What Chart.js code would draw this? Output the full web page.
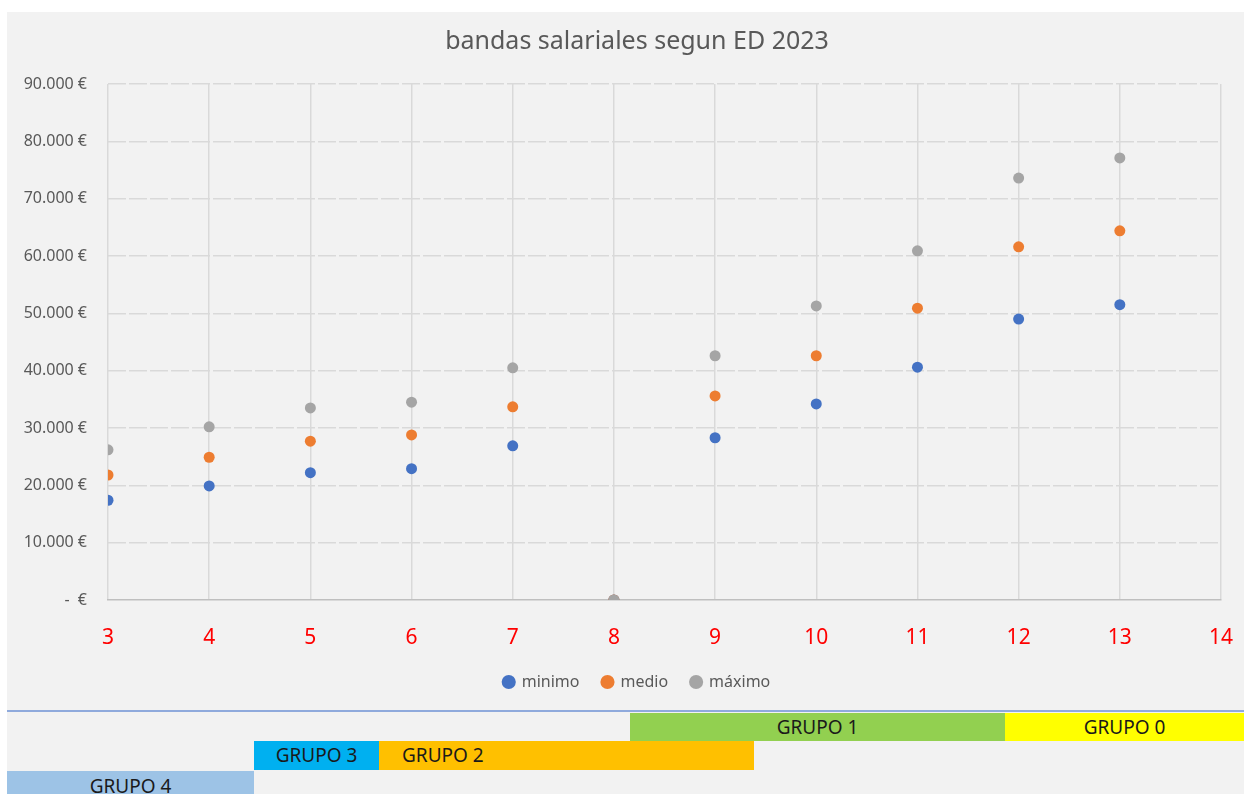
<!DOCTYPE html>
<html>
<head>
<meta charset="utf-8">
<script src="https://cdn.jsdelivr.net/npm/chart.js@4.4.0/dist/chart.umd.min.js"></script>
<style>
  body { margin: 0; background: #fff; width: 1244px; height: 794px; overflow: hidden; position: relative; }
  #sheet { position: absolute; left: 7px; top: 12px; width: 1237px; height: 782px; background: #f2f2f2; }
  #wrap { position: absolute; left: 7px; top: 12px; width: 1260px; height: 696px; }
  #line { position: absolute; left: 7px; top: 710px; width: 1237px; height: 2px; background: #8faadc; }
  .cell { position: absolute; height: 28px; line-height: 28px; font-family: "Noto Sans", "Open Sans", sans-serif; font-size: 19px; color: #1a1a1a; text-align: center; }
</style>
</head>
<body>
<div id="sheet"></div>
<div id="wrap"><canvas id="myChart"></canvas></div>
<div id="line"></div>
<div class="cell" style="left:630px; top:713px; width:375px; background:#92d050;">GRUPO 1</div>
<div class="cell" style="left:1005px; top:713px; width:239px; background:#ffff00;">GRUPO 0</div>
<div class="cell" style="left:254px; top:741px; width:125px; height:29px; background:#00b0f0;">GRUPO 3</div>
<div class="cell" style="left:379px; top:741px; width:352px; height:29px; background:#ffc000; text-align:left; padding-left:23px;">GRUPO 2</div>
<div class="cell" style="left:7px; top:771px; width:247px; height:23px; line-height:30px; background:#9dc3e6; overflow:hidden;">GRUPO 4</div>
<script>
var niveles = [3, 4, 5, 6, 7, 8, 9, 10, 11, 12, 13];
var minimo = [17400, 19900, 22200, 22900, 26900, 0, 28300, 34200, 40600, 49000, 51500];
var medio = [21800, 24900, 27700, 28800, 33700, 0, 35600, 42600, 50900, 61600, 64400];
var maximo = [26200, 30200, 33500, 34500, 40500, 0, 42600, 51300, 60900, 73600, 77100];
var fontName = '"Noto Sans", "Open Sans", sans-serif';

function puntos(vals) {
  var out = [];
  for (var i = 0; i < niveles.length; i++) {
    out.push({x: niveles[i], y: vals[i]});
  }
  return out;
}

function euros(v) {
  if (v === 0) return '-  €';
  return String(v).replace(/\B(?=(\d{3})+(?!\d))/g, '.') + ' €';
}

var ctx = document.getElementById('myChart').getContext('2d');
var chart = new Chart(ctx, {
  type: 'scatter',
  data: {
    datasets: [
      // gris encima en el punto 8, como en el original
      {label: 'minimo', data: puntos(minimo), backgroundColor: '#4472c4', borderColor: '#4472c4', order: 3},
      {label: 'medio', data: puntos(medio), backgroundColor: '#ed7d31', borderColor: '#ed7d31', order: 2},
      {label: 'máximo', data: puntos(maximo), backgroundColor: '#a5a5a5', borderColor: '#a5a5a5', order: 1}
    ]
  },
  options: {
    responsive: true,
    maintainAspectRatio: false,
    animation: false,
    elements: {point: {radius: 5.5, hoverRadius: 5.5, borderWidth: 0, pointStyle: 'circle'}},
    layout: {padding: {left: 0, right: 0, top: 0, bottom: 8}},
    plugins: {
      title: {
        display: true,
        text: 'bandas salariales segun ED 2023',
        color: '#595959',
        font: {family: fontName, size: 25, weight: 'normal', lineHeight: 1.2},
        padding: {top: 15, bottom: 27}
      },
      legend: {
        position: 'bottom',
        labels: {
          usePointStyle: true,
          pointStyle: 'circle',
          boxWidth: 10,
          boxHeight: 10,
          padding: 23,
          color: '#595959',
          font: {family: fontName, size: 16},
          sort: function(a, b) { return a.datasetIndex - b.datasetIndex; }
        }
      },
      tooltip: {enabled: false}
    },
    scales: {
      x: {
        type: 'linear',
        min: 3,
        max: 14,
        ticks: {stepSize: 1, color: '#ff0000', font: {family: fontName, size: 21}, padding: 25},
        grid: {color: '#d9d9d9', lineWidth: 1.5, drawTicks: false},
        border: {display: true, color: '#bfbfbf', width: 1.5},
        afterFit: function(scale) { scale.height = 51; }
      },
      y: {
        min: 0,
        max: 90000,
        ticks: {stepSize: 10000, color: '#595959', font: {family: fontName, size: 16}, padding: 21, callback: euros},
        grid: {color: function(c) { return c.tick && c.tick.value === 0 ? 'rgba(0,0,0,0)' : '#d9d9d9'; }, lineWidth: 1.5, drawTicks: false},
        border: {display: false, dash: [18, 3]},
        afterFit: function(scale) { scale.width = 101; }
      },
      // eje vacio a la derecha para dejar el titulo y la leyenda centrados como en el original
      y2: {
        position: 'right',
        ticks: {display: false},
        grid: {display: false},
        border: {display: false},
        afterFit: function(scale) { scale.width = 46; }
      }
    }
  }
});
</script>
</body>
</html>
